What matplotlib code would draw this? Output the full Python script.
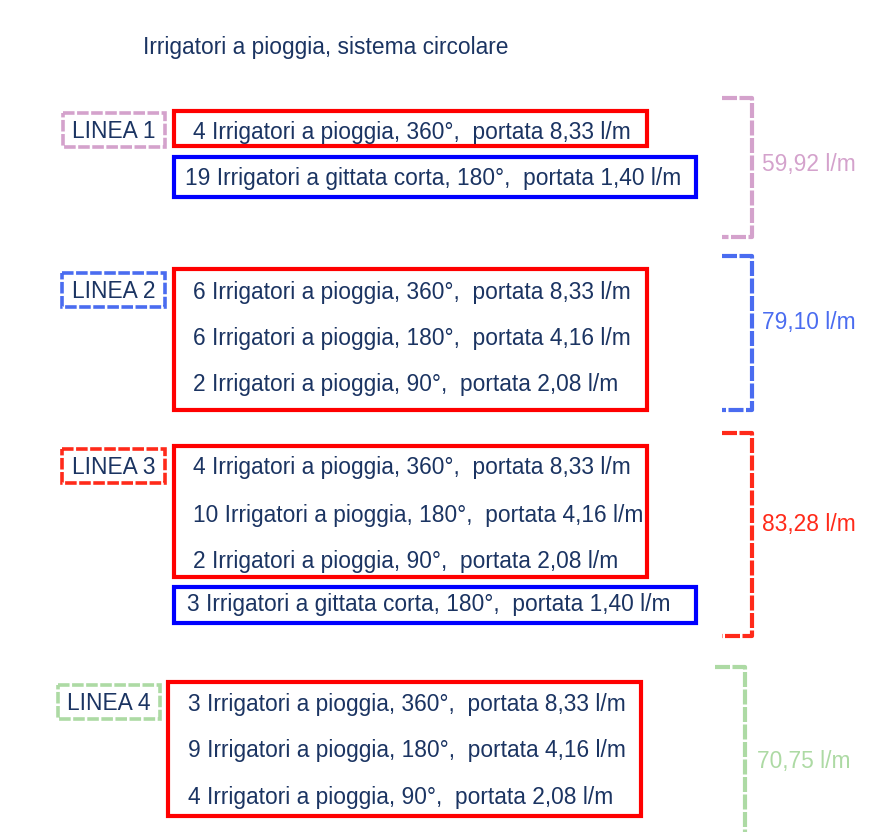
import matplotlib.pyplot as plt
from matplotlib.patches import Rectangle

# ==========================
# Data
# ==========================

titolo = "Irrigatori a pioggia, sistema circolare"

linee = ["LINEA 1", "LINEA 2", "LINEA 3", "LINEA 4"]
portate_totali = ["59,92 l/m", "79,10 l/m", "83,28 l/m", "70,75 l/m"]
colori_linea = ["#d4a2cc", "#4a6cf0", "#ff2a1a", "#addaa4"]

# irrigatori a pioggia per linea: (numero, angolo, portata)
pioggia = [
    [(4, "360°", "8,33")],
    [(6, "360°", "8,33"), (6, "180°", "4,16"), (2, "90°", "2,08")],
    [(4, "360°", "8,33"), (10, "180°", "4,16"), (2, "90°", "2,08")],
    [(3, "360°", "8,33"), (9, "180°", "4,16"), (4, "90°", "2,08")],
]
# irrigatori a gittata corta per linea: (numero, angolo, portata)
gittata = [(19, "180°", "1,40"), None, (3, "180°", "1,40"), None]

# ==========================
# Layout (pixel)
# ==========================

label_box = [(63, 113, 102, 34), (62, 273, 103, 34), (62, 449, 103, 34), (58, 685, 102, 34)]
red_box = [(174, 111, 473, 35), (174, 269, 473, 141), (174, 446, 473, 131), (168, 682, 473, 134)]
red_rows_y = [[131], [291, 337, 383], [466, 514, 560], [703, 749, 796]]
red_text_x = [193, 193, 193, 188]
blue_box = [(174, 157, 522, 40), None, (174, 587, 522, 36), None]
blue_text_y = [177, None, 603, None]
blue_text_x = [185, None, 187, None]
bracket = [(722, 752, 98, 237), (722, 752, 256, 410), (722, 752, 433, 636), (715, 745, 667, 860)]
total_pos = [(762, 163), (762, 321), (762, 523), (757, 760)]

testo = "#1b3462"
fs = 16.4

fig = plt.figure(figsize=(8.73, 8.32), dpi=100)
ax = fig.add_axes([0, 0, 1, 1])
ax.set_xlim(0, 873)
ax.set_ylim(832, 0)
ax.axis("off")


def scrivi(x, y, s, color=testo, ha="left"):
    # centro sulla meta' dell'altezza delle maiuscole
    ax.text(x, y + 8, s, fontsize=fs, color=color, ha=ha, va="baseline",
            family="Liberation Sans")


scrivi(143, 46, titolo)

for i, nome in enumerate(linee):
    col = colori_linea[i]
    x, y, w, h = label_box[i]
    ax.add_patch(Rectangle((x, y), w, h, fill=False, edgecolor=col, lw=2.6,
                           linestyle=(0, (3.2, 0.7))))
    scrivi(x + w / 2, y + h / 2, nome, ha="center")

    x, y, w, h = red_box[i]
    ax.add_patch(Rectangle((x, y), w, h, fill=False, edgecolor="#ff0000", lw=3))
    for (n, ang, port), yy in zip(pioggia[i], red_rows_y[i]):
        scrivi(red_text_x[i], yy, f"{n} Irrigatori a pioggia, {ang},  portata {port} l/m")

    if blue_box[i] is not None:
        x, y, w, h = blue_box[i]
        ax.add_patch(Rectangle((x, y), w, h, fill=False, edgecolor="#0000ff", lw=3))
        n, ang, port = gittata[i]
        scrivi(blue_text_x[i], blue_text_y[i],
               f"{n} Irrigatori a gittata corta, {ang},  portata {port} l/m")

    x0, x1, y0, y1 = bracket[i]
    ax.plot([x0, x1, x1, x0], [y0, y0, y1, y1], color=col, lw=3,
            linestyle=(0, (3.6, 0.6)), solid_capstyle="butt")
    tx, ty = total_pos[i]
    scrivi(tx, ty, portate_totali[i], color=col)

fig.savefig("out.png", dpi=100)
